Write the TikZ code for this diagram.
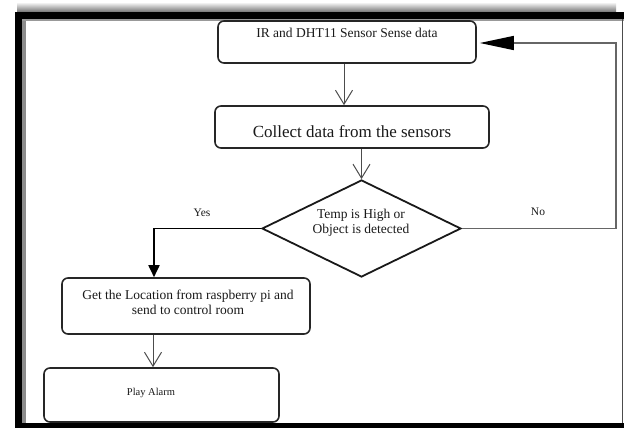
\documentclass[tikz,border=0pt]{standalone}
\usepackage{fontspec}
\setmainfont{Liberation Serif}
\usetikzlibrary{shapes.geometric,arrows.meta}
\begin{document}
\begin{tikzpicture}[x=1pt,y=-1pt,
  box/.style={draw=black!85,line width=1.6pt,rounded corners=6pt,inner sep=0pt},
  dia/.style={draw=black!90,diamond,line width=1.8pt,inner sep=0pt},
  txt/.style={inner sep=0pt,text=black!90},
  vee/.style={-{Straight Barb[length=14pt,width=17pt,line width=1pt]},line width=1pt,draw=black!70},
  yesline/.style={-{Triangle[length=12pt,width=11pt]},line width=1.8pt,draw=black},
  noline/.style={-{Triangle[length=34pt,width=14pt,color=black]},line width=1.4pt,draw=black!60}]
\useasboundingbox (0,0) rectangle (624,428);
% top shadow
\shade[top color=white,bottom color=black!55] (17,2) rectangle (616,12);
% frame
\fill[black!45] (22,19) rectangle (26,423);
\fill[black!40] (22,19) rectangle (624,21);
\fill[black] (15,12) rectangle (624,19);
\fill[black] (15,12) rectangle (22,428);
\fill[black] (15,423) rectangle (624,428);
\draw[black!70,line width=1pt] (622,19) -- (622,423);
% nodes
\node[box,minimum width=258pt,minimum height=42pt] (b1) at (347,42) {};
\node[txt,font=\fontsize{13.5}{15}\selectfont] (t1) at (347,33) {IR and DHT11 Sensor Sense data};
\node[box,minimum width=274pt,minimum height=42pt] (b2) at (352,127) {};
\node[txt,font=\fontsize{17}{19}\selectfont] (t2) at (352,132) {Collect data from the sensors};
\node[dia,minimum width=199pt,minimum height=97pt] (d) at (361.5,228.5) {};
\node[txt,align=center,font=\fontsize{13.5}{15}\selectfont] (td) at (361,223) {Temp is High or\\Object is detected};
\node[box,minimum width=248pt,minimum height=56pt] (b3) at (186,306) {};
\node[txt,align=center,font=\fontsize{13.5}{15}\selectfont] (t3) at (188,302) {Get the Location from raspberry pi and\\send to control room};
\node[box,minimum width=235pt,minimum height=54pt] (b4) at (161.5,395) {};
\node[txt,font=\fontsize{10.5}{12}\selectfont] (t4) at (151,393) {Play Alarm};
\node[txt,font=\fontsize{11.5}{13}\selectfont] (yes) at (202,213) {Yes};
\node[txt,font=\fontsize{11.5}{13}\selectfont] (no) at (538,212) {No};
% connectors
\draw[vee] ([xshift=-3pt]b1.south) -- ([xshift=-3pt]b1.south |- b2.north);
\draw[vee] (d.north |- b2.south) -- (d.north);
\draw[yesline] (d.west) -| ([xshift=-32pt]b3.north);
\draw[vee] ([xshift=-33pt]b3.south) -- ([xshift=-33pt]b3.south |- b4.north);
\coordinate (nc) at (616,43);
\draw[noline] (d.east) -- (d.east -| nc) -- (nc) -- ([xshift=3pt]b1.east |- nc);
\end{tikzpicture}
\end{document}
